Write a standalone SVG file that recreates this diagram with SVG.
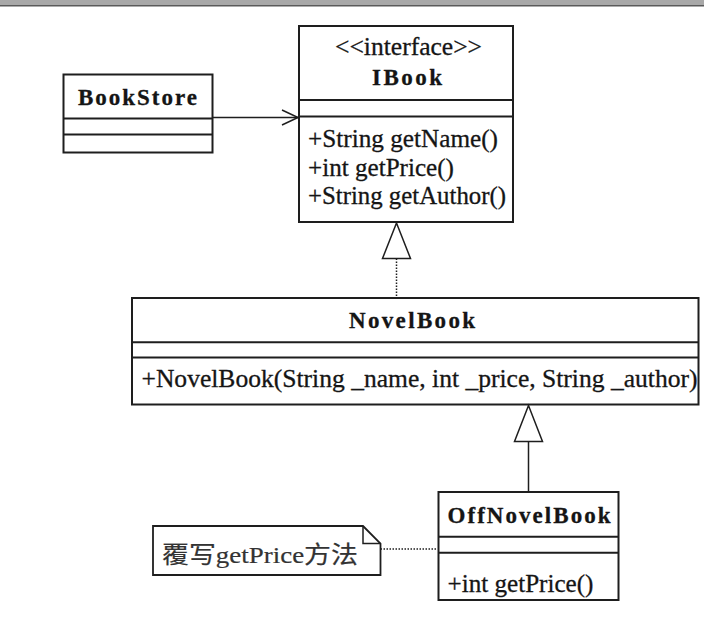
<svg xmlns="http://www.w3.org/2000/svg" width="704" height="620" viewBox="0 0 704 620">
<style>
.box{fill:#fff;stroke:#1e1e1e;stroke-width:2}
.div{stroke:#1e1e1e;stroke-width:2}
text{font-family:'Liberation Serif','Times New Roman',Tinos,'Noto Sans CJK SC',serif;fill:#151515;stroke:#151515;stroke-width:0.3}
.t{font-size:25px}
.b{font-size:23px;font-weight:bold}
.cj{font-size:24px;fill:#333;stroke:#333;stroke-width:0.2}
.ln{fill:none;stroke:#1e1e1e;stroke-width:1.5}
.dot{fill:none;stroke:#1e1e1e;stroke-width:1.5;stroke-dasharray:1.5 1.5}
.tri{fill:#fff;stroke:#1e1e1e;stroke-width:1.5}
</style>
<rect x="0" y="0" width="704" height="620" fill="#fff"/>
<rect x="0" y="0" width="704" height="5" fill="#a8a8a8"/>
<rect x="0" y="5" width="704" height="1.5" fill="#5a5a5a"/>

<g id="IBook">
<rect class="box" x="299" y="26" width="214" height="196"/>
<line class="div" x1="299" y1="100" x2="513" y2="100"/>
<line class="div" x1="299" y1="116.5" x2="513" y2="116.5"/>
<text class="t" x="335" y="55" textLength="147" lengthAdjust="spacingAndGlyphs">&lt;&lt;interface&gt;&gt;</text>
<text class="b" x="372" y="85" textLength="70" lengthAdjust="spacing">IBook</text>
<text class="t" x="308" y="147" textLength="190" lengthAdjust="spacingAndGlyphs">+String getName()</text>
<text class="t" x="308" y="175.5" textLength="146" lengthAdjust="spacingAndGlyphs">+int getPrice()</text>
<text class="t" x="308" y="204" textLength="198" lengthAdjust="spacingAndGlyphs">+String getAuthor()</text>
</g>

<g id="BookStore">
<rect class="box" x="63.5" y="74.5" width="149" height="78"/>
<line class="div" x1="63.5" y1="118.5" x2="212.5" y2="118.5"/>
<line class="div" x1="63.5" y1="134.5" x2="212.5" y2="134.5"/>
<text class="b" x="78" y="105" textLength="119" lengthAdjust="spacing">BookStore</text>
</g>

<g id="NovelBook">
<rect class="box" x="132" y="298" width="566.5" height="106.5"/>
<line class="div" x1="132" y1="342.3" x2="698.5" y2="342.3"/>
<line class="div" x1="132" y1="357.5" x2="698.5" y2="357.5"/>
<text class="b" x="349" y="328" textLength="126" lengthAdjust="spacing">NovelBook</text>
<text class="t" x="141.5" y="387" textLength="556" lengthAdjust="spacingAndGlyphs">+NovelBook(String _name, int _price, String _author)</text>
</g>

<g id="OffNovelBook">
<rect class="box" x="438.5" y="492" width="180" height="108"/>
<line class="div" x1="438.5" y1="536.7" x2="618.5" y2="536.7"/>
<line class="div" x1="438.5" y1="552.7" x2="618.5" y2="552.7"/>
<text class="b" x="447.5" y="523" textLength="163" lengthAdjust="spacing">OffNovelBook</text>
<text class="t" x="447.5" y="592" textLength="146" lengthAdjust="spacingAndGlyphs">+int getPrice()</text>
</g>

<g id="Note">
<path class="box" style="stroke-width:1.8" d="M153,526 H363 L380.5,543.5 V575 H153 Z"/>
<path class="ln" d="M363,526 V543.5 H380.5"/>
<text class="cj" x="162" y="563" textLength="196" lengthAdjust="spacingAndGlyphs">覆写getPrice方法</text>
</g>

<g id="connectors">
<line class="ln" x1="212.5" y1="117.5" x2="298" y2="117.5"/>
<polyline class="ln" points="282,110 298,117.5 282,125"/>
<polygon class="tri" points="396.5,223 382.5,258.5 410.5,258.5"/>
<line class="dot" x1="396.5" y1="258.5" x2="396.5" y2="297"/>
<polygon class="tri" points="528.5,405.5 514.5,441.5 542.5,441.5"/>
<line class="ln" x1="528.5" y1="441.5" x2="528.5" y2="491"/>
<line class="dot" x1="380.5" y1="549" x2="437.5" y2="549"/>
</g>
</svg>
